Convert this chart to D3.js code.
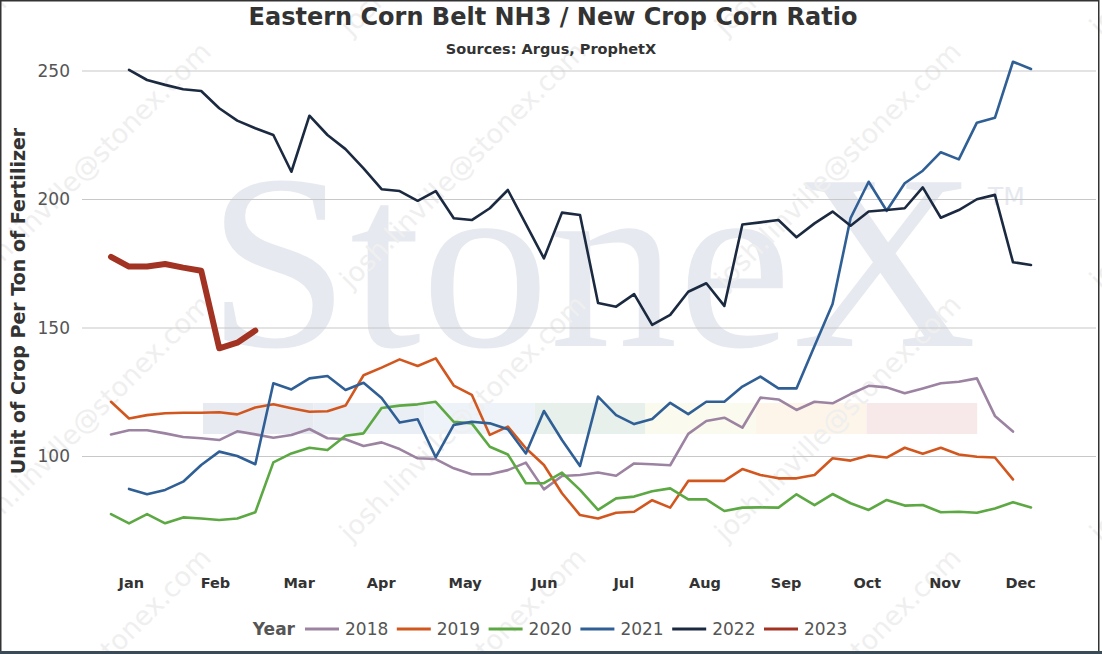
<!DOCTYPE html>
<html>
<head>
<meta charset="utf-8">
<script src="https://cdn.jsdelivr.net/npm/d3@7"></script>
<style>
	html, body { margin: 0; padding: 0; background: #fff; }
	svg { display: block; font-family: "DejaVu Sans", Verdana, sans-serif; }
</style>
</head>
<body>
<svg id="chart" width="1102" height="654"></svg>
<script>
// month labels and where they sit on the week axis
const monthLabels = ['Jan', 'Feb', 'Mar', 'Apr', 'May', 'Jun', 'Jul', 'Aug', 'Sep', 'Oct', 'Nov', 'Dec']
const monthWeeks = [1.1, 5.76, 10.4, 14.95, 19.6, 24.0, 28.4, 32.9, 37.4, 41.9, 46.2, 50.4]
const yTicks = [100, 150, 200, 250]

const years = ['2018', '2019', '2020', '2021', '2022', '2023']
const yearColors = ['#9c83a2', '#d2571f', '#5ca843', '#2f5f95', '#1b2a41', '#a23322']
// first week index of each series
const yearStart = [0, 0, 0, 1, 1, 0]

// weekly ratio values
const v2018 = [108.6, 110.2, 110.2, 109.0, 107.6, 107.1, 106.4, 109.8, 108.6, 107.3,
	108.4, 110.7, 107.1, 106.7, 104.1, 105.5, 102.9, 99.3, 99.0, 95.4,
	93.1, 93.1, 94.7, 97.6, 87.2, 92.4, 92.8, 93.8, 92.5, 97.3,
	97.0, 96.6, 108.8, 113.8, 115.1, 111.2, 122.9, 122.2, 118.1, 121.3,
	120.7, 124.3, 127.5, 126.9, 124.6, 126.5, 128.5, 129.1, 130.4, 115.8, 109.7]
const v2019 = [121.3, 114.8, 116.1, 116.8, 117.0, 117.0, 117.2, 116.4, 119.1, 120.3,
	118.8, 117.4, 117.6, 119.8, 131.6, 134.6, 137.8, 135.2, 138.2, 127.6,
	124.0, 108.4, 111.6, 103.2, 96.7, 85.7, 77.2, 75.9, 78.1, 78.5,
	83.0, 80.1, 90.5, 90.5, 90.5, 95.1, 92.8, 91.5, 91.5, 92.8,
	99.3, 98.4, 100.4, 99.6, 103.4, 101.1, 103.4, 100.8, 99.9, 99.6, 91.1]
const v2020 = [77.6, 74.0, 77.6, 74.0, 76.3, 75.9, 75.3, 75.9, 78.3, 97.7,
	101.2, 103.4, 102.5, 108.1, 109.0, 118.9, 119.8, 120.3, 121.3, 113.5,
	112.9, 103.8, 100.8, 89.6, 89.6, 93.7, 87.0, 79.2, 83.7, 84.4,
	86.5, 87.6, 83.3, 83.3, 78.8, 80.1, 80.2, 80.1, 85.3, 81.1,
	85.4, 81.8, 79.2, 83.1, 80.9, 81.1, 78.3, 78.5, 78.1, 79.8, 82.2, 80.2]
const v2021 = [87.4, 85.3, 87.0, 90.2, 96.7, 101.9, 100.2, 97.0, 128.5,
	126.1, 130.4, 131.3, 125.9, 128.7, 122.8, 113.2, 114.5, 99.7, 112.3,
	113.5, 112.9, 110.6, 101.2, 117.7, 106.4, 96.3, 123.3, 116.1, 112.6,
	114.6, 120.9, 116.5, 121.3, 121.3, 127.2, 131.1, 126.5, 126.5, 143.0,
	159.3, 192.8, 206.9, 195.6, 206.3, 211.2, 218.4, 215.6, 229.9, 231.8, 253.6, 250.8]
const v2022 = [250.4, 246.5, 244.6, 242.9, 242.2, 235.5, 230.7, 227.7, 225.1, 210.8,
	232.6, 225.1, 219.6, 212.1, 204.0, 203.3, 199.5, 203.3, 192.7, 192.0,
	196.6, 203.7, 190.4, 177.1, 194.9, 194.0, 159.7, 158.3, 163.2, 151.2,
	155.1, 164.1, 167.4, 158.6, 190.3, 191.1, 192.0, 185.3, 190.7, 195.3,
	189.8, 195.3, 195.9, 196.6, 204.7, 192.9, 195.9, 200.1, 201.8, 175.6, 174.5]
const v2023 = [177.7, 173.9, 173.9, 174.9, 173.5, 172.3, 142.1, 144.3, 149.0]

const yearValues = [v2018, v2019, v2020, v2021, v2022, v2023]

const series = years.map((year, k) => ({
	year,
	color: yearColors[k],
	width: year === '2023' ? 6 : 2.6,
	points: yearValues[k].map((v, i) => ({week: yearStart[k] + i, value: v})),
}))

const W = 1102
const H = 654
const svg = d3.select('#chart')

const x = d3.scaleLinear().domain([0, 51]).range([111, 1031])
const y = d3.scaleLinear().domain([100, 250]).range([456.5, 71])

// --- watermark (behind everything) ---
const wm = svg.append('g').attr('class', 'watermark')

// faint colour strip of the logo
const stripColors = ['#e7ebf1', '#eaeef5', '#eef3f9', '#e7f0ea', '#fafaee', '#fdf5e9', '#f7e8ea']
wm.selectAll('rect.strip')
	.data(stripColors)
	.join('rect')
	.attr('class', 'strip')
	.attr('x', (d, i) => 203 + i * 110.6)
	.attr('y', 403)
	.attr('width', 110.6)
	.attr('height', 31)
	.attr('fill', d => d)

wm.append('text')
	.attr('x', 207)
	.attr('y', 346)
	.attr('font-family', '"Liberation Serif", "Times New Roman", serif')
	.attr('font-size', 250)
	.attr('textLength', 770)
	.attr('lengthAdjust', 'spacingAndGlyphs')
	.attr('fill', '#e6e9ef')
	.text('StoneX')
wm.append('text')
	.attr('x', 988)
	.attr('y', 205)
	.attr('font-family', '"DejaVu Sans", sans-serif')
	.attr('font-size', 25)
	.attr('fill', '#e6e9ef')
	.text('TM')

// diagonal email watermark
const wmCols = [-24, 351, 726, 1101]
const wmRows = [37, 290, 543, 796]
wmCols.forEach(cx => wmRows.forEach(cy => {
	wm.append('text')
		.attr('transform', `translate(${cx},${cy}) rotate(-45)`)
		.attr('font-size', 27)
		.attr('fill', '#efefef')
		.text('josh.linville@stonex.com')
}))

// --- grid and y axis ---
const grid = svg.append('g')
grid.selectAll('line')
	.data(yTicks)
	.join('line')
	.attr('x1', 82)
	.attr('x2', 1096)
	.attr('y1', d => y(d))
	.attr('y2', d => y(d))
	.attr('stroke', '#c8c8c8')
	.attr('stroke-width', 1.2)

const yAxis = svg.append('g')
	.attr('transform', 'translate(82,0)')
	.call(d3.axisLeft(y).tickValues(yTicks).tickSize(0).tickPadding(12))
yAxis.select('.domain').remove()
yAxis.selectAll('text')
	.attr('font-family', '"DejaVu Sans", Verdana, sans-serif')
	.attr('font-size', 17)
	.attr('fill', '#555')

// --- x axis (month labels only) ---
const xAxis = svg.append('g')
	.attr('transform', 'translate(0,572)')
	.call(d3.axisBottom(x).tickValues(monthWeeks).tickFormat((d, i) => monthLabels[i]).tickSize(0).tickPadding(6))
xAxis.select('.domain').remove()
xAxis.selectAll('text')
	.attr('font-family', '"DejaVu Sans", Verdana, sans-serif')
	.attr('font-size', 14.5)
	.attr('font-weight', 'bold')
	.attr('fill', '#333')

// --- lines ---
const line = d3.line()
	.x(d => x(d.week))
	.y(d => y(d.value))

svg.append('g')
	.selectAll('path')
	.data(series)
	.join('path')
	.attr('d', d => line(d.points))
	.attr('fill', 'none')
	.attr('stroke', d => d.color)
	.attr('stroke-width', d => d.width)
	.attr('stroke-linejoin', 'round')
	.attr('stroke-linecap', 'round')

// --- titles ---
svg.append('text')
	.attr('x', 553)
	.attr('y', 25)
	.attr('text-anchor', 'middle')
	.attr('font-size', 24)
	.attr('font-weight', 'bold')
	.attr('fill', '#333')
	.text('Eastern Corn Belt NH3 / New Crop Corn Ratio')

svg.append('text')
	.attr('x', 551)
	.attr('y', 54)
	.attr('text-anchor', 'middle')
	.attr('font-size', 14.5)
	.attr('font-weight', 'bold')
	.attr('fill', '#333')
	.text('Sources: Argus, ProphetX')

svg.append('text')
	.attr('transform', 'translate(25,301) rotate(-90)')
	.attr('text-anchor', 'middle')
	.attr('font-size', 19)
	.attr('font-weight', 'bold')
	.attr('fill', '#333')
	.text('Unit of Crop Per Ton of Fertilizer')

// --- legend ---
const legend = svg.append('g').attr('transform', 'translate(0,629)')
legend.append('text')
	.attr('x', 295)
	.attr('y', 6)
	.attr('text-anchor', 'end')
	.attr('font-size', 17)
	.attr('font-weight', 'bold')
	.attr('fill', '#555')
	.text('Year')

const item = legend.selectAll('g.item')
	.data(series)
	.join('g')
	.attr('class', 'item')
	.attr('transform', (d, i) => `translate(${305 + i * 91.8},0)`)
item.append('line')
	.attr('x1', 0)
	.attr('x2', 34)
	.attr('stroke', d => d.color)
	.attr('stroke-width', 3)
item.append('text')
	.attr('x', 40)
	.attr('y', 6)
	.attr('font-size', 17)
	.attr('fill', '#555')
	.text(d => d.year)

// --- frame ---
svg.append('rect')
	.attr('x', 0.75)
	.attr('y', 0.75)
	.attr('width', W - 4)
	.attr('height', H - 2)
	.attr('fill', 'none')
	.attr('stroke', '#333')
	.attr('stroke-width', 1.5)
svg.append('rect')
	.attr('x', 0)
	.attr('y', 651)
	.attr('width', W)
	.attr('height', 3)
	.attr('fill', '#3b4a57')
</script>
</body>
</html>
